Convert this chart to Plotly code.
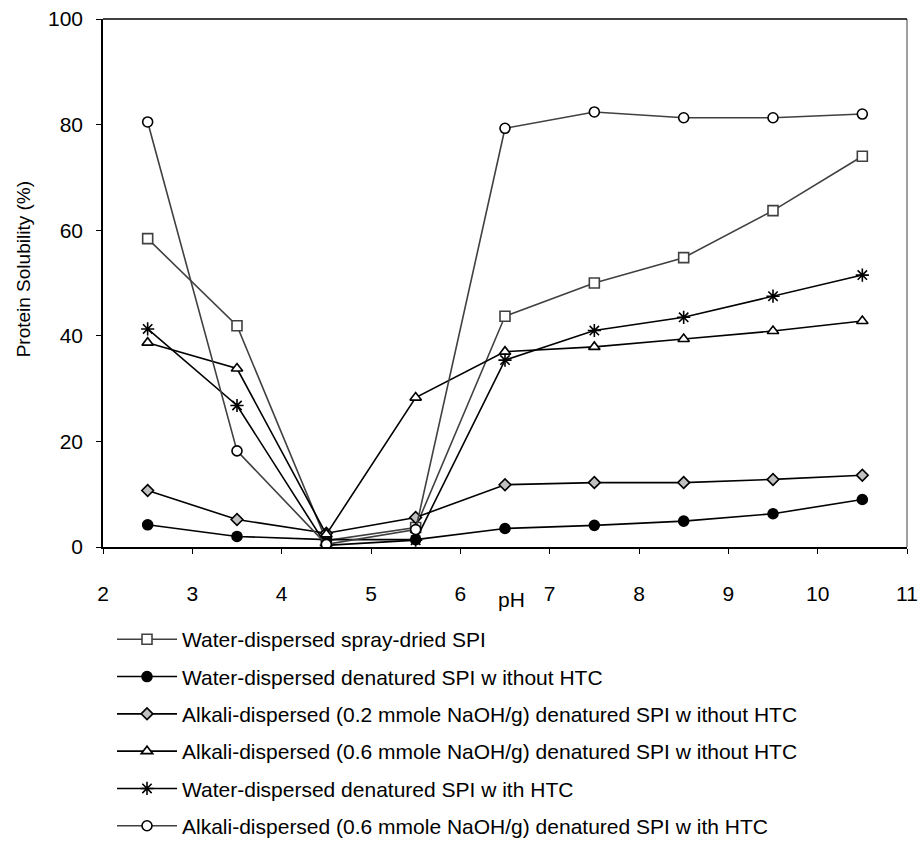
import plotly.graph_objects as go

ph = [2.5, 3.5, 4.5, 5.5, 6.5, 7.5, 8.5, 9.5, 10.5]
spray_dried = [58.4, 41.9, 1.2, 3.7, 43.7, 50.0, 54.8, 63.7, 74.0]
water_no_htc = [4.2, 2.0, 1.4, 1.4, 3.5, 4.1, 4.9, 6.3, 9.0]
alkali02_no_htc = [10.7, 5.2, 2.6, 5.6, 11.8, 12.2, 12.2, 12.8, 13.6]
alkali06_no_htc = [38.7, 33.8, 2.4, 28.3, 37.0, 37.9, 39.4, 40.9, 42.8]
water_htc = [41.3, 26.8, 0.3, 1.3, 35.4, 41.0, 43.5, 47.5, 51.5]
alkali06_htc = [80.5, 18.2, 0.5, 3.3, 79.3, 82.4, 81.3, 81.3, 82.0]

names = [
    "Water-dispersed spray-dried SPI",
    "Water-dispersed denatured SPI w ithout HTC",
    "Alkali-dispersed (0.2 mmole NaOH/g) denatured SPI w ithout HTC",
    "Alkali-dispersed (0.6 mmole NaOH/g) denatured SPI w ithout HTC",
    "Water-dispersed denatured SPI w ith HTC",
    "Alkali-dispersed (0.6 mmole NaOH/g) denatured SPI w ith HTC",
]
x_ticks = [2, 3, 4, 5, 6, 7, 8, 9, 10, 11]
y_ticks = [0, 20, 40, 60, 80, 100]

series = [spray_dried, water_no_htc, alkali02_no_htc, alkali06_no_htc, water_htc, alkali06_htc]
styles = [
    dict(line="#404040", symbol="square", fill="white", edge="#404040", size=10),
    dict(line="black", symbol="circle", fill="black", edge="black", size=10),
    dict(line="black", symbol="diamond", fill="#c0c0c0", edge="black", size=9),
    dict(line="black", symbol="triangle-up", fill="white", edge="black", size=10),
    dict(line="black", symbol="asterisk-open", fill="black", edge="black", size=11),
    dict(line="#404040", symbol="circle", fill="white", edge="black", size=10),
]

# plot area in pixels
L, R, T, B = 103, 907, 19, 561
W, H = 920, 858
pw, ph_ = R - L, B - T

fig = go.Figure()
for i, (name, ys, st) in enumerate(zip(names, series, styles)):
    fig.add_trace(go.Scatter(
        x=ph, y=ys, name=name, mode="lines+markers",
        legendgroup=f"g{i}",
        line=dict(color=st["line"], width=1.6),
        marker=dict(symbol=st["symbol"], size=st["size"], color=st["fill"],
                    line=dict(color=st["edge"], width=1.6)),
    ))

# right border (grey) and top border (black)
fig.add_shape(type="line", xref="paper", yref="paper", x0=1, x1=1, y0=0, y1=1,
              line=dict(color="#808080", width=1.5))
fig.add_shape(type="line", xref="paper", yref="paper", x0=0, x1=1, y0=1, y1=1,
              line=dict(color="black", width=1.5))

fig.add_annotation(text="pH", xref="paper", yref="paper",
                   x=(511 - L) / pw, y=(B - 615) / ph_,
                   showarrow=False, font=dict(size=21, color="black"),
                   xanchor="center", yanchor="middle")
fig.add_annotation(text="Protein Solubility (%)", xref="paper", yref="paper",
                   x=(23 - L) / pw, y=(B - 276) / ph_, textangle=-90,
                   showarrow=False, font=dict(size=19, color="black"),
                   xanchor="center", yanchor="middle")

font = "Liberation Sans, Arial, sans-serif"
fig.update_layout(
    width=W, height=H,
    margin=dict(l=L, r=W - R, t=T, b=H - B),
    paper_bgcolor="white", plot_bgcolor="white",
    font=dict(family=font, color="black", size=21),
    showlegend=True,
    legend=dict(x=(112 - L) / pw, y=(B - 635) / ph_, xanchor="left", yanchor="top",
                font=dict(size=21), traceorder="grouped", tracegroupgap=7,
                itemwidth=60, bgcolor="rgba(0,0,0,0)"),
    xaxis=dict(range=[2, 11], tickvals=x_ticks, ticktext=[str(v) for v in x_ticks],
               showgrid=False, zeroline=False, showline=True, linecolor="black", linewidth=1.5,
               ticks="outside", ticklen=5, tickcolor="black", tickwidth=1.2,
               tickfont=dict(size=21), ticklabelstandoff=22, automargin=False),
    yaxis=dict(range=[0, 100], tickvals=y_ticks, ticktext=[str(v) for v in y_ticks],
               showgrid=False, zeroline=False, showline=True, linecolor="black", linewidth=1.5,
               ticks="outside", ticklen=5, tickcolor="black", tickwidth=1.2,
               tickfont=dict(size=21), ticklabelstandoff=9, automargin=False),
)

fig.write_html("out.html", config={"displayModeBar": False},
               post_script="document.body.style.margin='0';document.body.style.overflow='hidden';")
